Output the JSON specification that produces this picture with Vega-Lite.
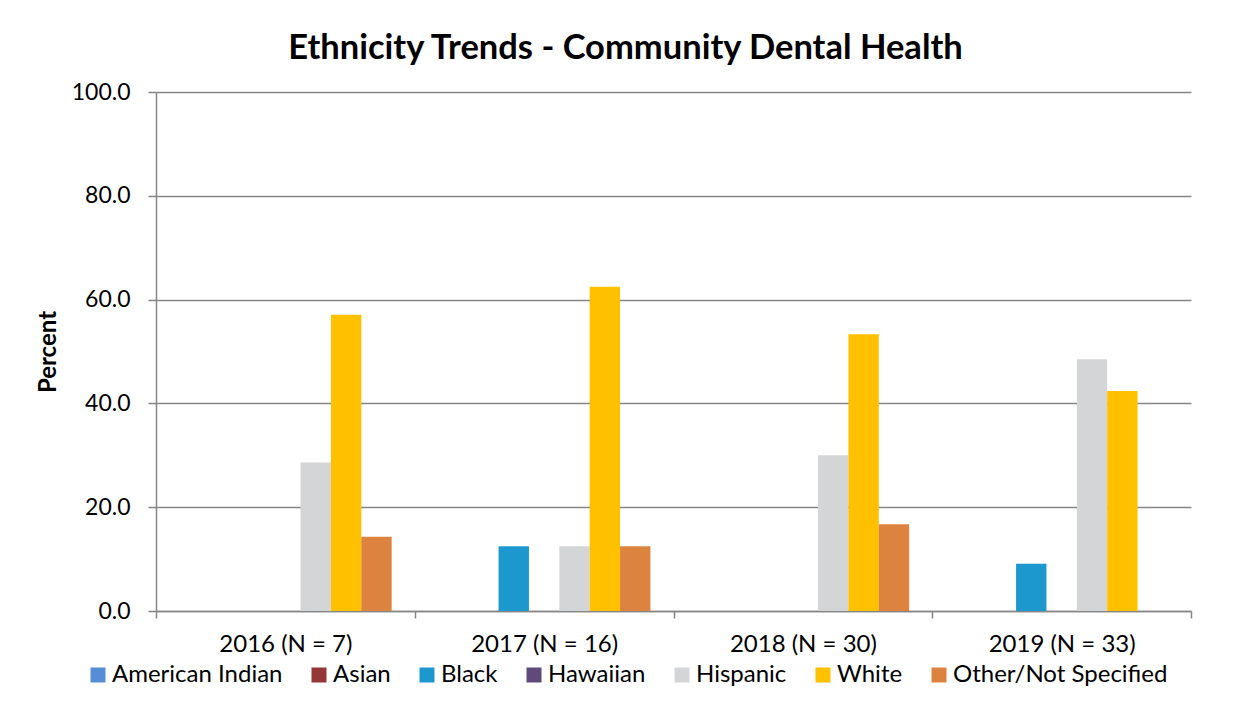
{
  "$schema": "https://vega.github.io/schema/vega-lite/v6.json",
  "width": 1035,
  "height": 519,
  "autosize": {"type": "none"},
  "padding": {"left": 156, "top": 92, "right": 58, "bottom": 100},
  "background": "white",
  "title": {
    "text": "Ethnicity Trends - Community Dental Health",
    "fontSize": 34.5,
    "fontWeight": "bold",
    "font": "Lato",
    "color": "#000000",
    "anchor": "middle",
    "frame": "group",
    "dx": -48,
    "offset": 15
  },
  "data": {
    "values": [
      {"year": "2016 (N = 7)", "ethnicity": "American Indian", "pct": 0},
      {"year": "2016 (N = 7)", "ethnicity": "Asian", "pct": 0},
      {"year": "2016 (N = 7)", "ethnicity": "Black", "pct": 0},
      {"year": "2016 (N = 7)", "ethnicity": "Hawaiian", "pct": 0},
      {"year": "2016 (N = 7)", "ethnicity": "Hispanic", "pct": 28.6},
      {"year": "2016 (N = 7)", "ethnicity": "White", "pct": 57.1},
      {"year": "2016 (N = 7)", "ethnicity": "Other/Not Specified", "pct": 14.3},
      {"year": "2017 (N = 16)", "ethnicity": "American Indian", "pct": 0},
      {"year": "2017 (N = 16)", "ethnicity": "Asian", "pct": 0},
      {"year": "2017 (N = 16)", "ethnicity": "Black", "pct": 12.5},
      {"year": "2017 (N = 16)", "ethnicity": "Hawaiian", "pct": 0},
      {"year": "2017 (N = 16)", "ethnicity": "Hispanic", "pct": 12.5},
      {"year": "2017 (N = 16)", "ethnicity": "White", "pct": 62.5},
      {"year": "2017 (N = 16)", "ethnicity": "Other/Not Specified", "pct": 12.5},
      {"year": "2018 (N = 30)", "ethnicity": "American Indian", "pct": 0},
      {"year": "2018 (N = 30)", "ethnicity": "Asian", "pct": 0},
      {"year": "2018 (N = 30)", "ethnicity": "Black", "pct": 0},
      {"year": "2018 (N = 30)", "ethnicity": "Hawaiian", "pct": 0},
      {"year": "2018 (N = 30)", "ethnicity": "Hispanic", "pct": 30.0},
      {"year": "2018 (N = 30)", "ethnicity": "White", "pct": 53.3},
      {"year": "2018 (N = 30)", "ethnicity": "Other/Not Specified", "pct": 16.7},
      {"year": "2019 (N = 33)", "ethnicity": "American Indian", "pct": 0},
      {"year": "2019 (N = 33)", "ethnicity": "Asian", "pct": 0},
      {"year": "2019 (N = 33)", "ethnicity": "Black", "pct": 9.1},
      {"year": "2019 (N = 33)", "ethnicity": "Hawaiian", "pct": 0},
      {"year": "2019 (N = 33)", "ethnicity": "Hispanic", "pct": 48.5},
      {"year": "2019 (N = 33)", "ethnicity": "White", "pct": 42.4},
      {"year": "2019 (N = 33)", "ethnicity": "Other/Not Specified", "pct": 0}
    ]
  },
  "transform": [{"filter": "datum.pct > 0"}],
  "mark": {"type": "bar"},
  "encoding": {
    "x": {
      "field": "year",
      "type": "nominal",
      "sort": null,
      "scale": {"domain": ["2016 (N = 7)", "2017 (N = 16)", "2018 (N = 30)", "2019 (N = 33)"], "paddingInner": 0, "paddingOuter": 0},
      "axis": {
        "title": null,
        "labelAngle": 0,
        "labelFont": "Lato",
        "labelFontSize": 24,
        "labelColor": "#000000",
        "labelPadding": 14,
        "labelLimit": 400,
        "tickBand": "extent",
        "tickColor": "#868686",
        "tickSize": 7,
        "tickWidth": 1.5,
        "domainColor": "#868686",
        "domainWidth": 1.5,
        "grid": false
      }
    },
    "xOffset": {
      "field": "ethnicity",
      "type": "nominal",
      "scale": {"domain": ["American Indian", "Asian", "Black", "Hawaiian", "Hispanic", "White", "Other/Not Specified"], "paddingInner": 0, "paddingOuter": 0.76}
    },
    "y": {
      "field": "pct",
      "type": "quantitative",
      "scale": {"domain": [0, 100], "nice": false},
      "axis": {
        "title": "Percent",
        "titleFont": "Lato",
        "titleFontSize": 24,
        "titleFontWeight": "bold",
        "titleColor": "#000000",
        "titlePadding": 11,
        "values": [0, 20, 40, 60, 80, 100],
        "format": ".1f",
        "labelFont": "Lato",
        "labelFontSize": 23,
        "labelColor": "#000000",
        "labelPadding": 18,
        "tickColor": "#868686",
        "tickSize": 8,
        "tickWidth": 1.5,
        "domainColor": "#868686",
        "domainWidth": 1.5,
        "grid": true,
        "gridColor": "#868686",
        "gridWidth": 1.5
      }
    },
    "color": {
      "field": "ethnicity",
      "type": "nominal",
      "scale": {
        "domain": ["American Indian", "Asian", "Black", "Hawaiian", "Hispanic", "White", "Other/Not Specified"],
        "range": ["#558ED5", "#953735", "#1C98CF", "#604A7B", "#D4D5D7", "#FFC000", "#DC843F"]
      },
      "legend": {
        "title": null,
        "orient": "none",
        "legendX": -70,
        "legendY": 571,
        "direction": "horizontal",
        "symbolType": "square",
        "symbolSize": 225,
        "symbolStrokeWidth": 0,
        "labelFont": "Lato",
        "labelFontSize": 24,
        "labelLimit": 400,
        "labelColor": "#000000",
        "labelOffset": 2,
        "columnPadding": 24
      }
    }
  },
  "config": {
    "view": {"stroke": null}
  }
}
